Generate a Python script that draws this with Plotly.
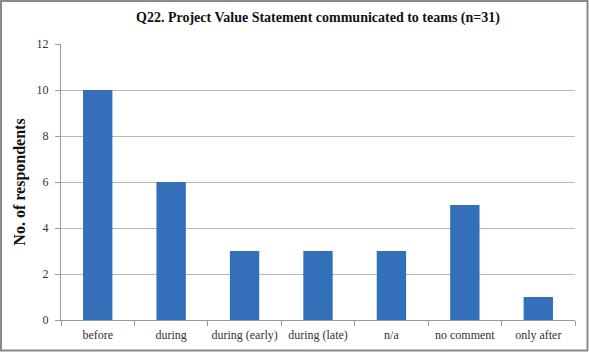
import plotly.graph_objects as go

categories = ["before", "during", "during (early)", "during (late)", "n/a", "no comment", "only after"]
respondents = [10, 6, 3, 3, 3, 5, 1]
y_ticks = [0, 2, 4, 6, 8, 10, 12]

W, H = 589, 352
L, R, T, B = 61, 575, 44, 320

fig = go.Figure(go.Bar(
    x=categories, y=respondents,
    marker=dict(color="#3470BA", line=dict(width=0)),
    width=0.4,
))

font = "Liberation Serif, DejaVu Serif, serif"
fig.update_layout(
    width=W, height=H,
    margin=dict(l=L, r=W - R, t=T, b=H - B, autoexpand=False),
    paper_bgcolor="white", plot_bgcolor="white",
    showlegend=False,
    font=dict(family=font, size=12, color="#333"),
    title=dict(text="<b>Q22. Project Value Statement communicated to teams (n=31)</b>",
               x=0.5, xref="paper", xanchor="center", y=1 - 17 / H, yanchor="middle",
               font=dict(size=14, family=font, color="#111")),
    xaxis=dict(showline=True, linecolor="#9a9a9a", linewidth=1, ticks="outside",
               tickson="boundaries", ticklen=5, tickcolor="#9a9a9a", tickangle=0,
               ticklabelstandoff=4,
               tickfont=dict(size=12, family=font), showgrid=False),
    yaxis=dict(range=[0, 12], tickvals=y_ticks, showline=True, linecolor="#9a9a9a",
               linewidth=1, ticks="outside", ticklen=5, tickcolor="#9a9a9a",
               gridcolor="#b8b8b8", gridwidth=1, zeroline=False,
               ticklabelstandoff=4,
               tickfont=dict(size=12, family=font),
               title=dict(text="<b>No. of respondents</b>", font=dict(size=16, family=font, color="#111"), standoff=6)),
)

# outer border around the whole chart
pw, ph = R - L, B - T
def px_x(v): return (v - L) / pw
def px_y(v): return (B - v) / ph
fig.add_shape(type="rect", xref="paper", yref="paper",
              x0=px_x(1), x1=px_x(W - 1.5), y0=px_y(H - 1.5), y1=px_y(1),
              line=dict(color="#8a8a8a", width=2), fillcolor="rgba(0,0,0,0)", layer="above")

fig.write_html("out.html")
